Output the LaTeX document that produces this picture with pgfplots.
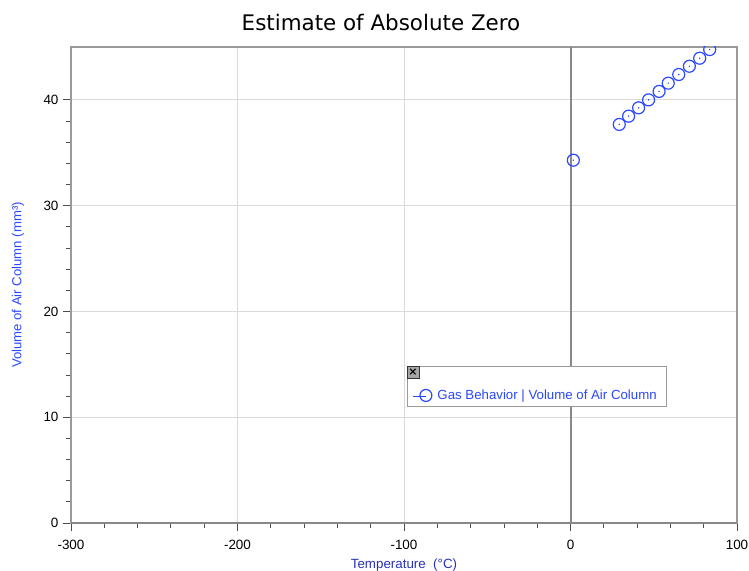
\documentclass[border=0pt]{standalone}
\usepackage{pgfplots}
\pgfplotsset{compat=1.18}
\usepackage{fontspec}
\setmainfont{Liberation Sans}
\newfontfamily\titlefont{DejaVu Sans}
\definecolor{ptblue}{HTML}{2A48FF}
\definecolor{xlab}{HTML}{2A30B8}
\definecolor{gridc}{HTML}{DADADA}
\definecolor{axc}{HTML}{9A9A9A}
\definecolor{zeroc}{HTML}{888888}
\pgfdeclareplotmark{circdot}{%
  \pgfpathcircle{\pgfpointorigin}{\pgfplotmarksize}\pgfusepathqstroke
  \pgfpathcircle{\pgfpointorigin}{0.8pt}\pgfusepathqfill}
\begin{document}
\begin{tikzpicture}
\path[use as bounding box] (-71bp,-48bp) rectangle (678bp,523bp);
\begin{axis}[
  at={(0,0)}, anchor=south west,
  scale only axis, width=666bp, height=476bp,
  xmin=-300, xmax=100, ymin=0, ymax=45,
  xtick={-300,-200,-100,0,100}, xticklabels={-300,-200,-100,0,100},
  ytick={0,10,20,30,40}, yticklabels={0,10,20,30,40},
  minor x tick num=4, minor y tick num=4,
  tick pos=left, tick align=outside,
  major tick length=8bp, minor tick length=5bp,
  every tick/.style={black!70, line width=0.8bp},
  grid=major, major grid style={gridc, line width=0.9bp},
  axis line style={axc, line width=1.2bp},
  ticklabel style={font=\fontsize{13.5}{15}\selectfont, text=black},
  xticklabel style={yshift=-6bp},
  yticklabel style={xshift=-1bp},
  xlabel={Temperature\ \ (°C)},
  xlabel style={at={(axis description cs:0.5,0)}, anchor=center, yshift=-42bp, font=\fontsize{13.4}{15}\selectfont, text=xlab},
  ylabel={Volume of Air Column (mm³)},
  ylabel style={at={(axis description cs:-0.0796,0.5)}, anchor=center, font=\fontsize{13.2}{15}\selectfont, text=ptblue},
  title={Estimate of Absolute Zero},
  title style={at={(axis description cs:0.4655,1)}, anchor=center, yshift=19bp, font=\titlefont\fontsize{21.5}{24}\selectfont},
  clip marker paths=true,
  legend style={at={(rel axis cs:0.5045,0.3298)}, anchor=north west, draw=axc, fill=white, line width=0.8bp,
    font=\fontsize{13.3}{15}\selectfont, text=ptblue, inner xsep=5bp, inner ysep=3bp},
  legend cell align=left,
]
\draw[zeroc, line width=2bp] (axis cs:0,0) -- (axis cs:0,45);
\draw[zeroc, line width=2bp] (rel axis cs:0,0) -- (rel axis cs:1,0);
\addlegendimage{empty legend}
\addlegendentry{\rule{0pt}{13bp}}
\addplot[only marks, mark=circdot, mark size=6bp, draw=ptblue, fill=ptblue, line width=1.2bp,
  legend image code/.code={\draw[ptblue, line width=1bp, fill=none] (0bp,-1bp) -- (13bp,-1bp);
    \draw[ptblue, line width=1.2bp, fill=none] (13bp,0bp) circle (6bp);
    \path (22bp,0bp);}]
  coordinates {
  (1.7,34.3) (29.3,37.68) (34.9,38.46) (40.9,39.25) (46.9,40.0) (53.2,40.8)
  (58.7,41.58) (65.0,42.4) (71.4,43.18) (77.6,43.94) (83.6,44.76)
  };
\addlegendentry{Gas Behavior | Volume of Air Column\kern3bp}
\coordinate (cb) at (rel axis cs:0.5135,0.3162);
\end{axis}
\node[draw=black!80, fill=black!35, minimum size=12bp, inner sep=0pt, line width=0.7bp] at (cb) {\titlefont\bfseries\fontsize{11}{11}\selectfont ×};
\end{tikzpicture}
\end{document}
